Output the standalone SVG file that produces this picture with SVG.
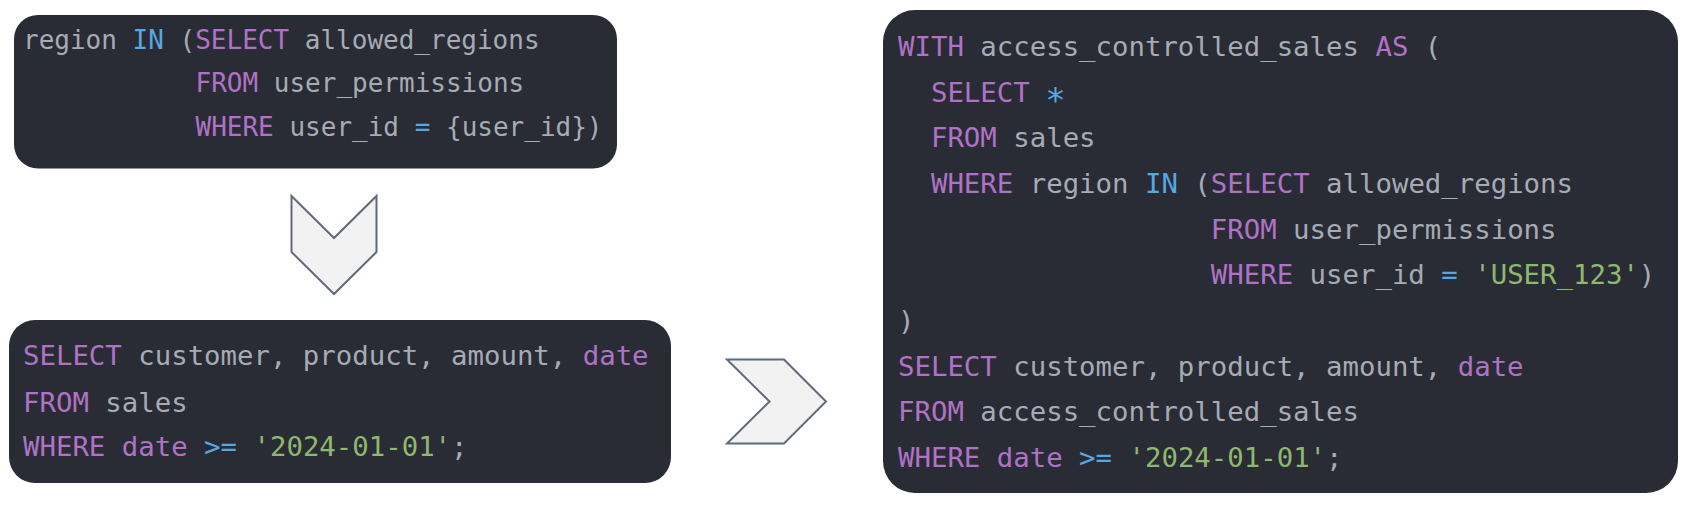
<svg xmlns="http://www.w3.org/2000/svg" width="1695" height="522" viewBox="0 0 1695 522">
<style>
.box{fill:#292c34}
.arrow{fill:#f2f2f2;stroke:#5f6b7c;stroke-width:2;stroke-linejoin:miter}
text{font-family:"DejaVu Sans Mono","Liberation Mono",monospace;fill:#a6abb5;white-space:pre}
.s{font-size:26px}
.m{font-size:27.35px}
.k{fill:#b072c6}
.o{fill:#57a7e2}
.g{fill:#8fb86f}
.star{font-size:34px}
</style>
<rect width="1695" height="522" fill="#ffffff"/>
<g id="connectors">
<path class="arrow" d="M291.500 196L334 238L376.500 196V252L334 294L291.500 252Z"/>
<path class="arrow" d="M727 359.500H784L826 401.500L784 443.500H727L769.500 401.500Z"/>
</g>
<g id="filter-snippet">
<rect class="box" x="14" y="15" width="603" height="153.500" rx="24"/>
<text class="s" x="23" y="49"><tspan>region </tspan><tspan class="o">IN</tspan><tspan> (</tspan><tspan class="k">SELECT</tspan><tspan> allowed_regions</tspan></text>
<text class="s" x="195.500" y="92"><tspan class="k">FROM</tspan><tspan> user_permissions</tspan></text>
<text class="s" x="195.500" y="136"><tspan class="k">WHERE</tspan><tspan> user_id </tspan><tspan class="o">=</tspan><tspan> {user_id})</tspan></text>
</g>
<g id="original-query">
<rect class="box" x="9" y="320" width="662" height="163" rx="26"/>
<text class="m" x="23" y="365"><tspan class="k">SELECT</tspan><tspan> customer, product, amount, </tspan><tspan class="k">date</tspan></text>
<text class="m" x="23" y="411.500"><tspan class="k">FROM</tspan><tspan> sales</tspan></text>
<text class="m" x="23" y="456"><tspan class="k">WHERE</tspan><tspan> </tspan><tspan class="k">date</tspan><tspan> </tspan><tspan class="o">&gt;=</tspan><tspan> </tspan><tspan class="g">'2024-01-01'</tspan><tspan>;</tspan></text>
</g>
<g id="rewritten-query">
<rect class="box" x="883" y="10" width="795" height="483" rx="32"/>
<text class="m" x="898" y="56"><tspan class="k">WITH</tspan><tspan> access_controlled_sales </tspan><tspan class="k">AS</tspan><tspan> (</tspan></text>
<text class="m" x="898" y="101.500"><tspan>  </tspan><tspan class="k">SELECT</tspan><tspan> </tspan><tspan class="o star" dx="-1" dy="10.500">*</tspan></text>
<text class="m" x="898" y="147"><tspan>  </tspan><tspan class="k">FROM</tspan><tspan> sales</tspan></text>
<text class="m" x="898" y="193"><tspan>  </tspan><tspan class="k">WHERE</tspan><tspan> region </tspan><tspan class="o">IN</tspan><tspan> (</tspan><tspan class="k">SELECT</tspan><tspan> allowed_regions</tspan></text>
<text class="m" x="898" y="238.500"><tspan>                   </tspan><tspan class="k">FROM</tspan><tspan> user_permissions</tspan></text>
<text class="m" x="898" y="284"><tspan>                   </tspan><tspan class="k">WHERE</tspan><tspan> user_id </tspan><tspan class="o">=</tspan><tspan> </tspan><tspan class="g">'USER_123'</tspan><tspan>)</tspan></text>
<text class="m" x="898" y="330">)</text>
<text class="m" x="898" y="376"><tspan class="k">SELECT</tspan><tspan> customer, product, amount, </tspan><tspan class="k">date</tspan></text>
<text class="m" x="898" y="421"><tspan class="k">FROM</tspan><tspan> access_controlled_sales</tspan></text>
<text class="m" x="898" y="467"><tspan class="k">WHERE</tspan><tspan> </tspan><tspan class="k">date</tspan><tspan> </tspan><tspan class="o">&gt;=</tspan><tspan> </tspan><tspan class="g">'2024-01-01'</tspan><tspan>;</tspan></text>
</g>
</svg>
